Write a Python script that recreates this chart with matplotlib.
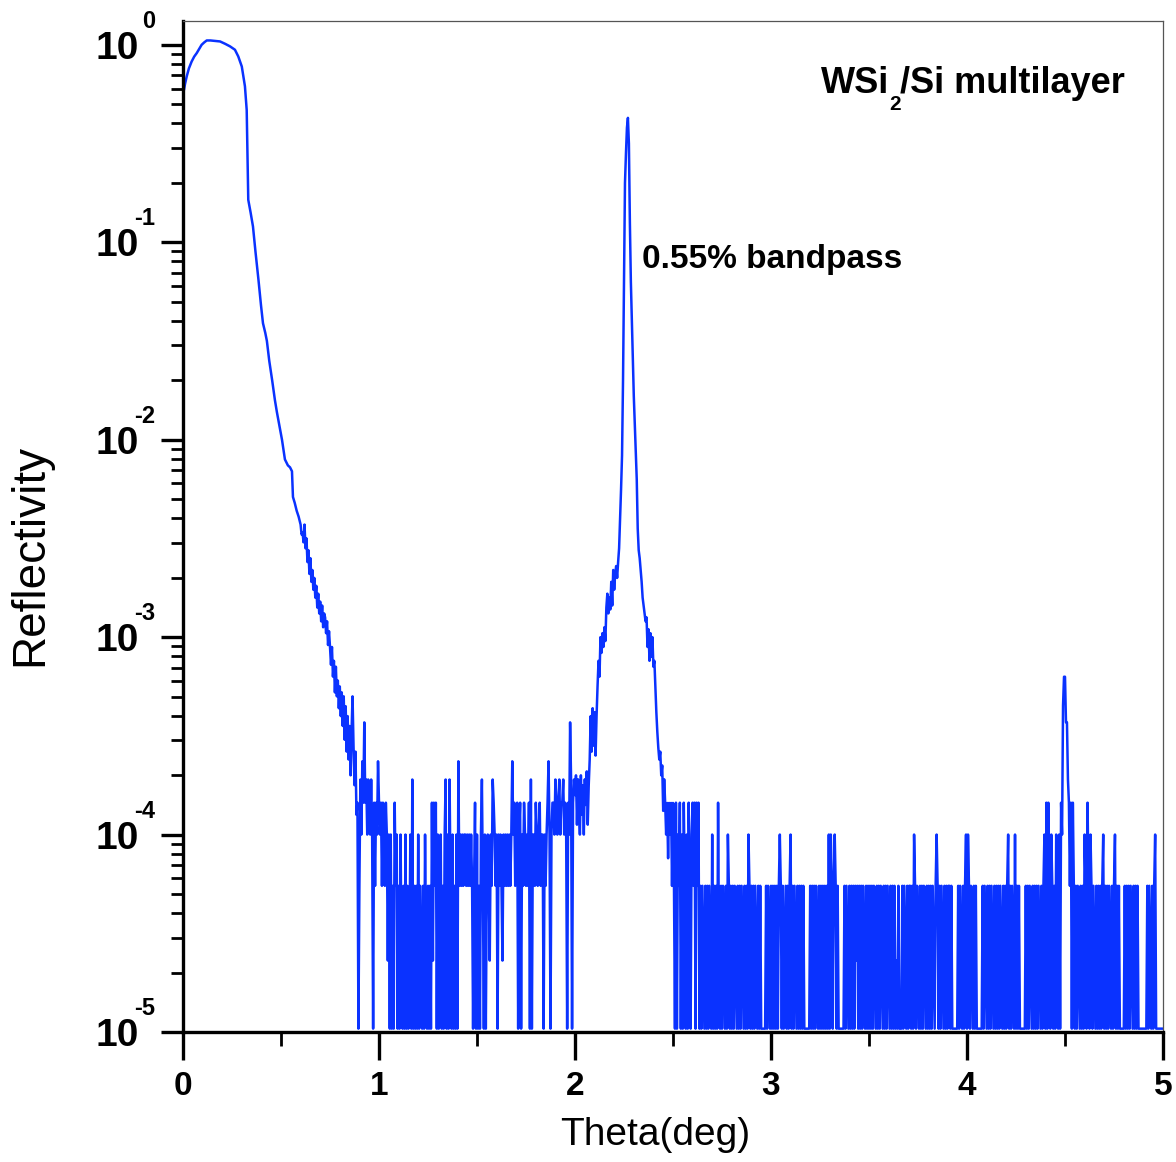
import numpy as np
import matplotlib
matplotlib.use("Agg")
import matplotlib.pyplot as plt
from matplotlib.ticker import FixedLocator, FixedFormatter, NullFormatter


# total reflection plateau and first fall-off (theta in deg, log10 R)
head_theta = [0.000, 0.005, 0.010, 0.019, 0.030, 0.044, 0.057, 0.070, 0.083, 0.095,
              0.108, 0.121, 0.140, 0.160, 0.189, 0.215, 0.240, 0.265, 0.282, 0.300,
              0.316, 0.325, 0.333, 0.345, 0.357, 0.370, 0.385, 0.398, 0.408, 0.420,
              0.428, 0.440, 0.455, 0.469, 0.479, 0.492, 0.505, 0.520, 0.535, 0.546,
              0.556, 0.561, 0.570, 0.580, 0.590, 0.600, 0.605]
head_log = [-0.24, -0.228, -0.20, -0.16, -0.12, -0.085, -0.06, -0.042, -0.02, 0.0,
            0.012, 0.022, 0.022, 0.020, 0.017, 0.005, -0.008, -0.025, -0.059, -0.11,
            -0.21, -0.33, -0.785, -0.85, -0.92, -1.05, -1.19, -1.32, -1.41, -1.46,
            -1.50, -1.60, -1.70, -1.80, -1.86, -1.93, -2.00, -2.10, -2.13, -2.14,
            -2.16, -2.29, -2.32, -2.36, -2.39, -2.43, -2.48]

# noisy tail before the detector floor, one reading every 0.005 deg
decay_start = 0.610
decay_log = [-2.47, -2.52, -2.43, -2.55, -2.50, -2.62, -2.56, -2.68, -2.60, -2.72,
             -2.66, -2.76, -2.70, -2.80, -2.74, -2.85, -2.78, -2.88, -2.82, -2.92,
             -2.84, -2.95, -2.88, -2.90, -2.98, -2.92, -3.04, -2.97, -3.05, -3.14,
             -3.05, -3.20, -3.12, -3.28, -3.15, -3.30, -3.22, -3.36, -3.25, -3.40,
             -3.28, -3.45, -3.30, -3.52, -3.35, -3.58, -3.40, -3.62, -3.45, -3.70,
             -3.48, -3.30, -3.55, -3.75, -3.58, -3.90]

# count levels seen at the noise floor
level_values = {'0': 1.04e-5, '1': 2.3e-5, '2': 5.5e-5, '3': 1.0e-4, '4': 1.45e-4,
                '5': 1.9e-4, '6': 2.35e-4, '7': 2.8e-4, '8': 3.7e-4, '9': 4.5e-4,
                'a': 6.3e-4}

floor1_start = 0.890
floor1_codes = ("40253648453543530424"
                "36434243243130302042"
                "30203102030201305020"
                "20302102031020204142"
                "40302302035030520302"
                "03062323233232323202"
                "40302035203023213254"
                "32303232132323232363"
                "42340340324323240503"
                "32432342330323463034"
                "4354345344534304385045")

# first order Bragg peak, log10 R every 0.005 deg from 2.000
peak_start = 2.000
peak_log = [-3.80, -3.70, -3.95, -3.72, -3.85, -4.00, -3.70, -3.90, -3.75, -4.00,
            -3.72, -3.85, -3.68, -3.95, -3.75, -3.62, -3.40, -3.58, -3.36, -3.55,
            -3.38, -3.60, -3.40, -3.25, -3.12, -3.20, -3.00, -3.08, -2.98, -3.05,
            -2.95, -3.02, -2.85, -2.78, -2.88, -2.80, -2.86, -2.72, -2.84, -2.66,
            -2.76, -2.68, -2.64, -2.70, -2.62, -2.55, -2.40, -2.25, -2.08, -1.70,
            -1.20, -0.70, -0.55, -0.42, -0.37, -0.50, -0.90, -1.20, -1.40, -1.60,
            -1.78, -1.92, -2.05, -2.20, -2.45, -2.56, -2.60, -2.66, -2.72, -2.80,
            -2.84, -2.88, -2.92, -2.90, -3.05, -2.96, -3.12, -2.98, -3.10, -3.00,
            -3.15, -3.12, -3.25, -3.38, -3.48, -3.56, -3.62, -3.58, -3.70, -3.65,
            -3.88, -3.72, -3.84, -4.00, -3.84, -4.12, -3.84, -4.00, -3.84, -4.26,
            -3.84, -4.26]

floor2_start = 2.510
floor2_codes = ("04032403042030420342"
                "40424020210202021030"
                "20204102021020320202"
                "02102020210202032020"
                "20210202000002021020"
                "20202023202012020230"
                "20210202020200000020"
                "20202102020202020303"
                "20232020000002021020"
                "20202120202021020202"
                "02021020202102020210"
                "20202010200020210202"
                "20203202102020210202"
                "02021023202021020202"
                "20200000020210202303"
                "20210202000000202102"
                "02021020202021020202"
                "30202103020200000020"
                "20210202020210202304"
                "04203202032030439aa8"
                "85424042020210202032"
                "04203202102020202302"
                "02021020230202000002"
                "02020210202020000000"
                "0020210202300000000")

x_ticks = [0, 1, 2, 3, 4, 5]
x_labels = ['0', '1', '2', '3', '4', '5']
y_exponents = [-5, -4, -3, -2, -1, 0]

step = 0.005
theta = np.concatenate([
    head_theta,
    decay_start + step * np.arange(len(decay_log)),
    floor1_start + step * np.arange(len(floor1_codes)),
    peak_start + step * np.arange(len(peak_log)),
    floor2_start + step * np.arange(len(floor2_codes)),
])
refl = np.concatenate([
    10.0 ** np.array(head_log),
    10.0 ** np.array(decay_log),
    [level_values[c] for c in floor1_codes],
    10.0 ** np.array(peak_log),
    [level_values[c] for c in floor2_codes],
])

plt.rcParams['font.family'] = ['Liberation Sans', 'DejaVu Sans']

W, H = 1176, 1162
fig = plt.figure(figsize=(W / 100, H / 100), dpi=100)
ax = fig.add_axes([183 / W, 1 - 1032 / H, 980 / W, 1011 / H])

ax.plot(theta, refl, color='#0a32ff', lw=1.8)

ax.set_yscale('log')
ax.set_xlim(0, 5)
ax.set_ylim(1e-5, 1.32)

for side in ['left', 'bottom']:
    ax.spines[side].set_linewidth(2.4)
    ax.spines[side].set_color('black')
for side in ['top', 'right']:
    ax.spines[side].set_linewidth(0.9)
    ax.spines[side].set_color('#555555')

ax.set_xticks(x_ticks)
ax.set_xticklabels(x_labels, fontweight='bold', fontsize=24)
ax.set_xticks([0.5, 1.5, 2.5, 3.5, 4.5], minor=True)

y_ticks = [10.0 ** e for e in y_exponents]
ax.yaxis.set_major_locator(FixedLocator(y_ticks))
ax.yaxis.set_major_formatter(FixedFormatter(['10'] * len(y_ticks)))
minor_y = [m * 10.0 ** e for e in range(-5, 0) for m in range(2, 10)]
ax.yaxis.set_minor_locator(FixedLocator(minor_y))
ax.yaxis.set_minor_formatter(NullFormatter())
for lbl in ax.get_yticklabels():
    lbl.set_fontweight('bold')

ax.tick_params(axis='x', which='major', direction='out', length=20, width=2.4, pad=8)
ax.tick_params(axis='x', which='minor', direction='out', length=10, width=2.0)
ax.tick_params(axis='y', which='major', direction='out', length=16, width=2.4,
               pad=16, labelsize=28)
ax.tick_params(axis='y', which='minor', direction='out', length=9, width=2.0)
ax.tick_params(top=False, right=False, which='both')

# powers of ten written next to the "10" labels
for e, v in zip(y_exponents, y_ticks):
    ax.annotate(str(e), xy=(0, v), xycoords=('axes fraction', 'data'),
                xytext=(-28, 12), textcoords='offset pixels',
                ha='right', va='bottom', fontsize=17, fontweight='bold')


def px(x, y):
    return x / W, 1 - y / H


fig.text(*px(889, 93), 'WSi', ha='right', va='baseline', fontsize=26, fontweight='bold')
fig.text(*px(895, 110), '2', ha='center', va='baseline', fontsize=15, fontweight='bold')
fig.text(*px(900, 93), '/Si multilayer', ha='left', va='baseline', fontsize=26,
         fontweight='bold')
fig.text(*px(642, 268), '0.55% bandpass', ha='left', va='baseline', fontsize=24,
         fontweight='bold')

fig.text(*px(655, 1135), 'Theta(deg)', ha='center', va='center', fontsize=28)
fig.text(*px(30, 555), 'Reflectivity', ha='center', va='center', rotation=90,
         fontsize=33)

fig.savefig('out.png', dpi=100)
